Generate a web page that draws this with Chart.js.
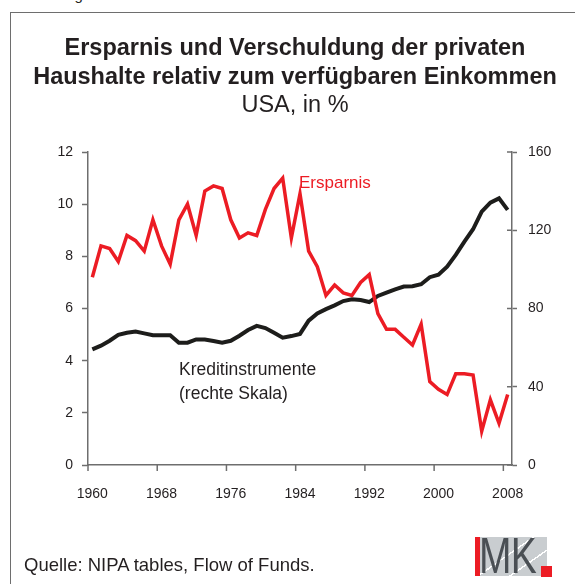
<!DOCTYPE html>
<html>
<head>
<meta charset="utf-8">
<script src="https://cdn.jsdelivr.net/npm/chart.js@4.4.1/dist/chart.umd.min.js"></script>
<style>
  body { margin: 0; background: #fff; }
  #wrap { position: relative; width: 575px; height: 584px; overflow: hidden;
          font-family: "Liberation Sans", Arial, sans-serif; color: #231f20; }
  #frame { position: absolute; left: 10px; top: 12px; width: 620px; height: 620px;
           border: 1.5px solid #6e6e6e; }
  #chart { position: absolute; left: 0; top: 0; }
  .txt { position: absolute; white-space: nowrap; }
  #fig { left: 16px; top: -14px; font-size: 15px; line-height: 18px; }
  #title { left: 0; width: 590px; top: 33px; text-align: center; font-size: 23.5px; line-height: 28.5px; }
  #title b { font-weight: bold; }
  #lblSave { left: 299px; top: 173px; font-size: 17px; line-height: 20px; color: #ec1c24; }
  #lblCredit { left: 179px; top: 357px; font-size: 17.5px; line-height: 24px; }
  #source { left: 24px; top: 554px; font-size: 18.5px; line-height: 22px; }
  #logo { position: absolute; left: 475px; top: 537px; width: 72px; height: 39px;
          background: linear-gradient(145deg, #c9cdd0 0 45%, #fff 45% 47%, #c9cdd0 47% 70%, #fff 70% 72%, #c9cdd0 72%); }
  #logo .bar { position: absolute; left: 0; top: 0; width: 5px; height: 39px; background: #ec1c24; }
  #logo .sq { position: absolute; left: 66px; top: 29px; width: 11px; height: 11px; background: #ec1c24; }
  #logo .mk { position: absolute; left: 4px; top: -6px; font-size: 50px; line-height: 50px;
              color: #4a4f54; transform: scaleX(0.78); transform-origin: left top; letter-spacing: -1px; }
</style>
</head>
<body>
<div id="wrap">
  <div id="frame"></div>
  <div class="txt" id="fig">Abbildung 1</div>
  <canvas id="chart" width="575" height="584"></canvas>
  <div class="txt" id="title"><b>Ersparnis und Verschuldung der privaten<br>Haushalte relativ zum verfügbaren Einkommen</b><br>USA, in %</div>
  <div class="txt" id="lblSave">Ersparnis</div>
  <div class="txt" id="lblCredit">Kreditinstrumente<br>(rechte Skala)</div>
  <div class="txt" id="source">Quelle: NIPA tables, Flow of Funds.</div>
  <div id="logo"><div class="mk">MK</div><div class="bar"></div><div class="sq"></div></div>
</div>
<script>
// Jahre
const years = [1960, 1961, 1962, 1963, 1964, 1965, 1966, 1967, 1968, 1969,
               1970, 1971, 1972, 1973, 1974, 1975, 1976, 1977, 1978, 1979,
               1980, 1981, 1982, 1983, 1984, 1985, 1986, 1987, 1988, 1989,
               1990, 1991, 1992, 1993, 1994, 1995, 1996, 1997, 1998, 1999,
               2000, 2001, 2002, 2003, 2004, 2005, 2006, 2007, 2008];

// Sparquote, linke Skala
const savings = [7.2, 8.4, 8.3, 7.8, 8.8, 8.6, 8.2, 9.4, 8.4, 7.7,
                 9.4, 10.0, 8.8, 10.5, 10.7, 10.6, 9.4, 8.7, 8.9, 8.8,
                 9.8, 10.6, 11.0, 8.7, 10.4, 8.2, 7.6, 6.5, 6.9, 6.6,
                 6.5, 7.0, 7.3, 5.8, 5.2, 5.2, 4.9, 4.6, 5.4, 3.2,
                 2.9, 2.7, 3.5, 3.5, 3.45, 1.3, 2.5, 1.6, 2.7];

// Kreditinstrumente, rechte Skala
const credit = [59.1, 61.0, 63.5, 66.5, 67.6, 68.2, 67.3, 66.3, 66.3, 66.3,
                62.5, 62.5, 64.2, 64.2, 63.4, 62.5, 63.5, 66.1, 69.0, 71.1,
                70.0, 67.6, 65.1, 65.9, 67.0, 73.8, 77.5, 79.7, 81.6, 83.8,
                84.7, 84.3, 83.3, 86.4, 88.1, 89.8, 91.2, 91.4, 92.4, 96.0,
                97.3, 101.4, 107.4, 114.2, 120.5, 129.5, 134.1, 136.3, 130.4];

const xTicks = [1960, 1968, 1976, 1984, 1992, 2000, 2008];
const leftTicks = [0, 2, 4, 6, 8, 10, 12];
const rightTicks = [0, 40, 80, 120, 160];

const axisColor = '#6e6e6e';
const textColor = '#231f20';
const tickFont = { family: '"Liberation Sans", Arial, sans-serif', size: 14 };

// tick marks between categories (x) and the inner half of the right axis ticks
const extraTicks = {
    id: 'extraTicks',
    afterDraw(chart) {
        const ctx = chart.ctx;
        const area = chart.chartArea;
        const x = chart.scales.x;
        const y1 = chart.scales.y1;
        ctx.save();
        ctx.strokeStyle = axisColor;
        ctx.lineWidth = 1.5;
        xTicks.forEach(v => {
            const px = x.getPixelForValue(v - 0.5);
            ctx.beginPath();
            ctx.moveTo(px, area.bottom);
            ctx.lineTo(px, area.bottom + 6);
            ctx.stroke();
        });
        rightTicks.forEach(v => {
            const py = y1.getPixelForValue(v);
            ctx.beginPath();
            ctx.moveTo(area.right - 5, py);
            ctx.lineTo(area.right, py);
            ctx.stroke();
        });
        ctx.restore();
    }
};

new Chart(document.getElementById('chart').getContext('2d'), {
    type: 'line',
    data: {
        datasets: [
            {
                label: 'Ersparnis',
                data: years.map((yr, i) => ({ x: yr, y: savings[i] })),
                yAxisID: 'y',
                borderColor: '#ec1c24',
                borderWidth: 3.5,
                pointRadius: 0,
                tension: 0
            },
            {
                label: 'Kreditinstrumente',
                data: years.map((yr, i) => ({ x: yr, y: credit[i] })),
                yAxisID: 'y1',
                borderColor: '#1d1d1b',
                borderWidth: 4,
                pointRadius: 0,
                tension: 0
            }
        ]
    },
    options: {
        responsive: false,
        animation: false,
        events: [],
        layout: { padding: { top: 152, bottom: 79, left: 0, right: 0 } },
        plugins: { legend: { display: false }, tooltip: { enabled: false } },
        scales: {
            x: {
                type: 'linear',
                min: 1959.5,
                max: 2008.5,
                afterBuildTicks: s => { s.ticks = xTicks.map(v => ({ value: v })); },
                afterFit: s => { s.height = 40; s.paddingLeft = 0; s.paddingRight = 0; },
                grid: { drawOnChartArea: false, tickLength: 6, tickColor: 'rgba(0,0,0,0)' },
                border: { color: axisColor, width: 1.5 },
                ticks: { color: textColor, font: tickFont, padding: 15, maxRotation: 0,
                         callback: v => String(v) }
            },
            y: {
                position: 'left',
                min: 0,
                max: 12,
                afterBuildTicks: s => { s.ticks = leftTicks.map(v => ({ value: v })); },
                afterFit: s => { s.width = 88; s.paddingTop = 0; s.paddingBottom = 0; },
                grid: { drawOnChartArea: false, tickLength: 6, tickColor: axisColor, tickWidth: 1.5 },
                border: { color: axisColor, width: 1.5 },
                ticks: { color: textColor, font: tickFont, padding: 9 }
            },
            y1: {
                position: 'right',
                min: 0,
                max: 160,
                afterBuildTicks: s => { s.ticks = rightTicks.map(v => ({ value: v })); },
                afterFit: s => { s.width = 63; s.paddingTop = 0; s.paddingBottom = 0; },
                grid: { drawOnChartArea: false, tickLength: 5, tickColor: axisColor, tickWidth: 1.5 },
                border: { color: axisColor, width: 1.5 },
                ticks: { color: textColor, font: tickFont, padding: 11 }
            }
        }
    },
    plugins: [extraTicks]
});
</script>
</body>
</html>
